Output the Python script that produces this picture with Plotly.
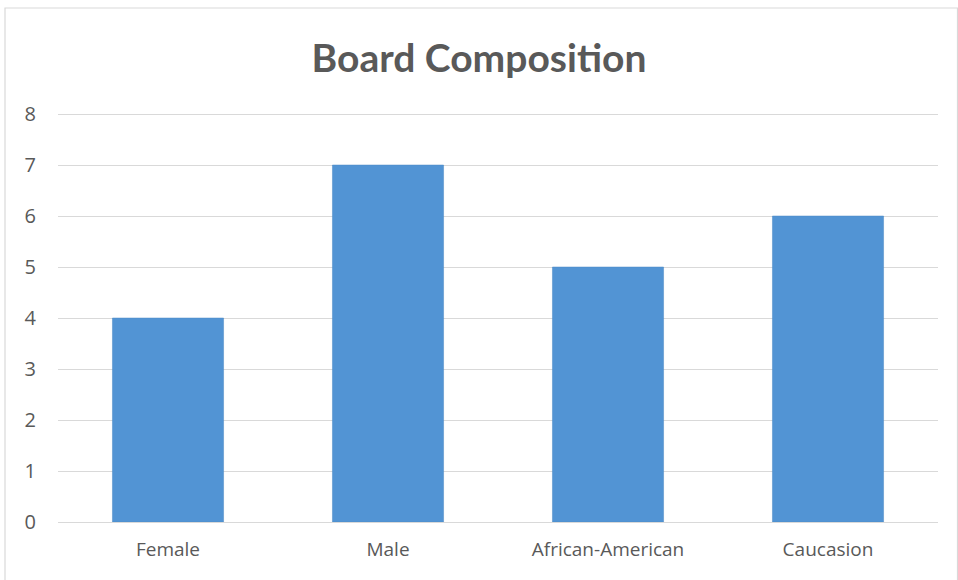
import plotly.graph_objects as go

categories = ["Female", "Male", "African-American", "Caucasion"]
values = [4, 7, 5, 6]
y_ticks = [0, 1, 2, 3, 4, 5, 6, 7, 8]

W, H = 958, 580
ml, mr, mt, mb = 58, 20, 112, 58
pw, ph = W - ml - mr, H - mt - mb

fig = go.Figure(go.Bar(
    x=categories, y=values,
    marker=dict(color="#5294d4", line=dict(color="#4a88c4", width=0.5)),
))

def px_x(p):
    return (p - ml) / pw

def px_y(p):
    return (H - mb - p) / ph

fig.add_shape(type="rect", xref="paper", yref="paper",
              x0=px_x(5), x1=px_x(957.5), y0=px_y(590), y1=px_y(8),
              line=dict(color="#d9d9d9", width=1.2), layer="below")

fig.update_layout(
    width=W, height=H,
    margin=dict(l=ml, r=mr, t=mt, b=mb),
    paper_bgcolor="white", plot_bgcolor="white",
    title=dict(text="<b>Board Composition</b>", x=0.5, xanchor="center",
               y=1 - 58 / H, yanchor="middle",
               font=dict(family="Lato, Open Sans, sans-serif", size=39, color="#595959")),
    bargap=0.495,
    showlegend=False,
    xaxis=dict(showgrid=False, showline=False, ticks="", ticklabelstandoff=14,
               tickfont=dict(family="Open Sans, sans-serif", size=19, color="#595959")),
    yaxis=dict(range=[0, 8.04], tickvals=y_ticks, showgrid=True, gridcolor="#d9d9d9",
               gridwidth=1, zeroline=True, zerolinecolor="#d9d9d9", zerolinewidth=1,
               showline=False, ticks="", ticklabelstandoff=21,
               tickfont=dict(family="Open Sans, sans-serif", size=20, color="#595959")),
)

fig.write_html("out.html")
